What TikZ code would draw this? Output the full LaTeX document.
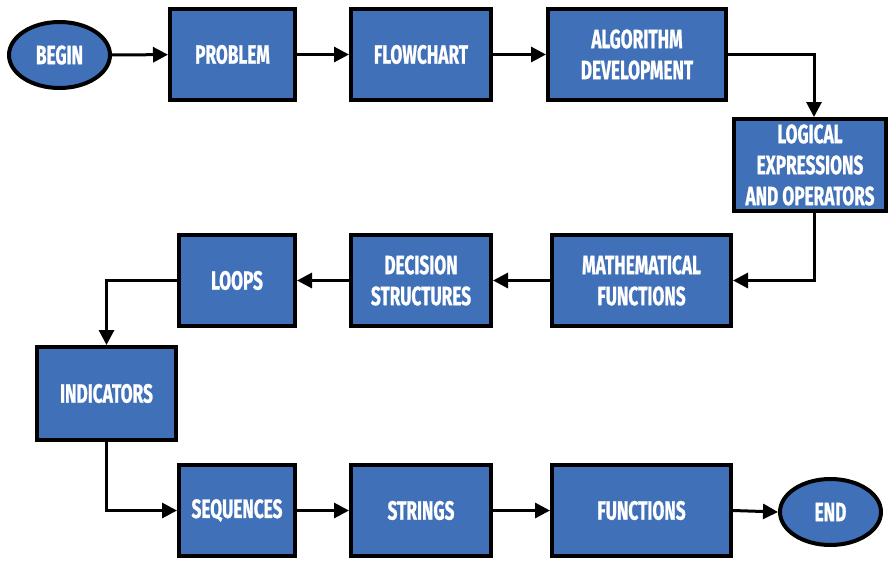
\documentclass[tikz,border=0pt]{standalone}
\usepackage{fontspec}
\newfontfamily\boxfont{Fira Sans}[FakeStretch=0.65,FakeBold=0.8]
\usetikzlibrary{shapes.geometric,arrows.meta}
\definecolor{boxblue}{HTML}{4070B8}
\begin{document}
\begin{tikzpicture}[x=1pt,y=-1pt,
  base/.style={draw=black,line width=4pt,fill=boxblue,text=white,align=center,
    font=\boxfont\bfseries\fontsize{26.5}{31}\selectfont,inner sep=0pt},
  stepbox/.style={base,rectangle,minimum height=91pt},
  term/.style={base,ellipse,minimum width=101pt,minimum height=66pt},
  conn/.style={line width=3pt,-{Triangle[length=15pt,width=15pt]}}]
\useasboundingbox (0,0) rectangle (892,562);
\node[term] (begin) at (59.5,55) {BEGIN};
\node[stepbox,minimum width=125pt] (problem) at (232.5,54.5) {PROBLEM};
\node[stepbox,minimum width=140pt] (flow) at (421,54.5) {FLOWCHART};
\node[stepbox,minimum width=178pt] (alg) at (637,54.5) {ALGORITHM\\DEVELOPMENT};
\node[stepbox,minimum width=152pt,minimum height=92pt] (logic) at (810,165) {LOGICAL\\EXPRESSIONS\\AND OPERATORS};
\node[stepbox,minimum width=179pt] (math) at (641.5,280.5) {MATHEMATICAL\\FUNCTIONS};
\node[stepbox,minimum width=140pt] (dec) at (421,280.5) {DECISION\\STRUCTURES};
\node[stepbox,minimum width=116pt] (loops) at (237,280.5) {LOOPS};
\node[stepbox,minimum width=139pt,minimum height=93pt] (ind) at (106.5,393.5) {INDICATORS};
\node[stepbox,minimum width=116pt] (seq) at (237,510.5) {SEQUENCES};
\node[stepbox,minimum width=140pt] (str) at (421,510.5) {STRINGS};
\node[stepbox,minimum width=179pt] (fun) at (641.5,510.5) {FUNCTIONS};
\node[term] (end) at (830.5,512) {END};
\draw[conn] (begin) -- (problem);
\draw[conn] (problem) -- (flow);
\draw[conn] (flow) -- (alg);
\draw[conn] (alg.east) -| ([xshift=4pt]logic.north);
\draw[conn] ([xshift=4pt]logic.south) |- (math.east);
\draw[conn] (math) -- (dec);
\draw[conn] (dec) -- (loops);
\draw[conn] (loops.west) -| (ind.north);
\draw[conn] (ind.south) |- (seq.west);
\draw[conn] (seq) -- (str);
\draw[conn] (str) -- (fun);
\draw[conn] (fun.east) -- (end.west);
\end{tikzpicture}
\end{document}
